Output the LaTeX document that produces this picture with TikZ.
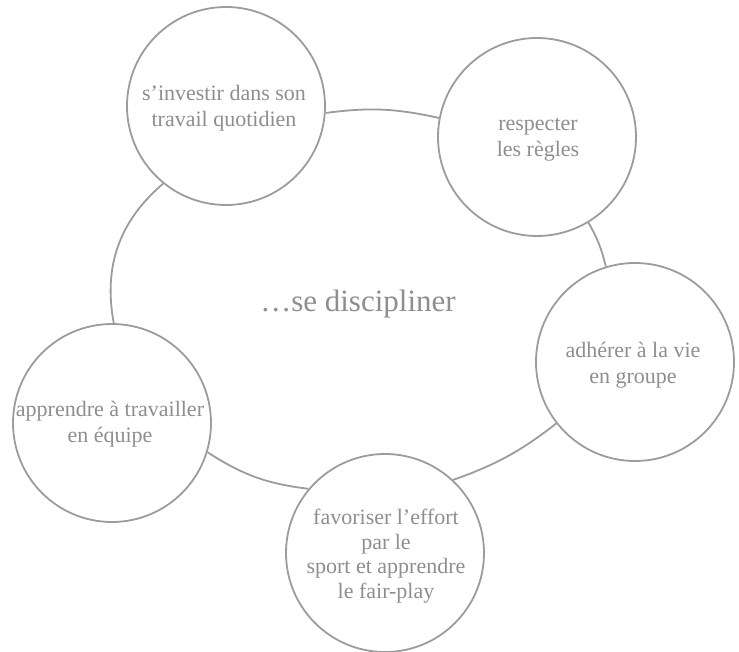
\documentclass[tikz,border=0pt]{standalone}
\usepackage{fontspec}
\setmainfont{Liberation Serif}
\definecolor{linegray}{HTML}{9C9C9C}
\definecolor{textgray}{HTML}{8E8E8E}
\begin{document}
\begin{tikzpicture}[x=1pt,y=-1pt,
  bubble/.style={circle,draw=linegray,line width=1.8pt,minimum size=198pt,inner sep=0pt},
  btext/.style={align=center,text=textgray,font=\fontsize{22}{26}\selectfont,inner sep=0pt},
  link/.style={draw=linegray,line width=1.8pt}]
\useasboundingbox (0,0) rectangle (739,652);
\node[bubble] (c1) at (226,106) {};
\node[bubble] (c2) at (537,137) {};
\node[bubble] (c3) at (635,362) {};
\node[bubble] (c4) at (112,423) {};
\node[bubble] (c5) at (385,553) {};
\node[btext] (t1) at (224,108) {s’investir dans son\\travail quotidien};
\node[btext] (t2) at (538,140) {respecter\\les règles};
\node[btext] (t3) at (633,365) {adhérer à la vie\\en groupe};
\node[btext] (t4) at (110,424) {apprendre à travailler\\en équipe};
\node[btext,font=\fontsize{22}{24.5}\selectfont] (t5) at (386,556) {favoriser l’effort\\par le\\sport et apprendre\\le fair-play};
\node[text=textgray,font=\fontsize{31}{36}\selectfont,inner sep=0pt] (center) at (358,304) {\ldots se discipliner};
\draw[link] (c1.-4) to[bend left=10] (c2.169);
\draw[link] (c2.-59) to[bend left=8] (c3.107);
\draw[link] (c3.218) to[bend left=9] (c5.47);
\draw[link] (c5.140) to[bend left=13] (c4.-17);
\draw[link] (c4.89) to[bend left=30] (c1.231);
\end{tikzpicture}
\end{document}
